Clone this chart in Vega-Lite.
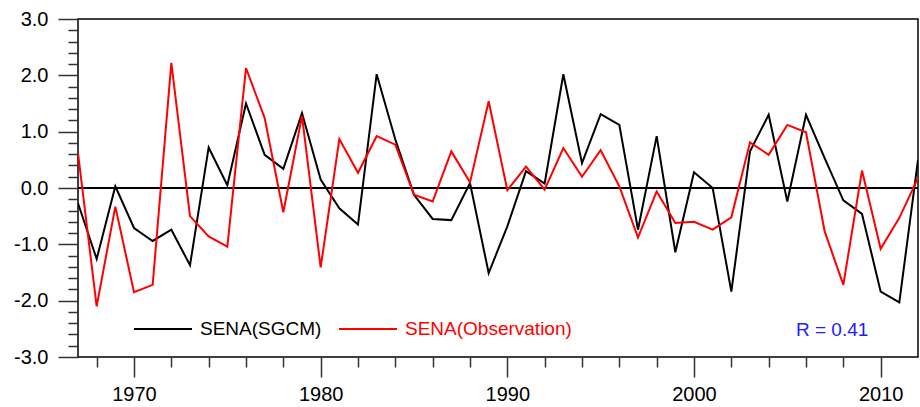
{
  "$schema": "https://vega.github.io/schema/vega-lite/v6.json",
  "autosize": "none",
  "width": 840,
  "height": 338,
  "padding": {"left": 78, "top": 19, "right": 2, "bottom": 50},
  "background": "white",
  "config": {
    "view": {"stroke": "black", "strokeWidth": 1.5},
    "font": "Liberation Sans",
    "axis": {"grid": false, "domain": false, "tickColor": "#333333", "tickWidth": 1.5, "labelFont": "Liberation Sans", "labelFontSize": 20, "labelColor": "black", "title": null}
  },
  "data": {
    "values": [
      {"year": 1967, "SENA(SGCM)": -0.27, "SENA(Observation)": 0.62},
      {"year": 1968, "SENA(SGCM)": -1.26, "SENA(Observation)": -2.10},
      {"year": 1969, "SENA(SGCM)": 0.03, "SENA(Observation)": -0.33},
      {"year": 1970, "SENA(SGCM)": -0.71, "SENA(Observation)": -1.85},
      {"year": 1971, "SENA(SGCM)": -0.94, "SENA(Observation)": -1.72},
      {"year": 1972, "SENA(SGCM)": -0.74, "SENA(Observation)": 2.22},
      {"year": 1973, "SENA(SGCM)": -1.37, "SENA(Observation)": -0.50},
      {"year": 1974, "SENA(SGCM)": 0.72, "SENA(Observation)": -0.86},
      {"year": 1975, "SENA(SGCM)": 0.05, "SENA(Observation)": -1.04},
      {"year": 1976, "SENA(SGCM)": 1.50, "SENA(Observation)": 2.13},
      {"year": 1977, "SENA(SGCM)": 0.59, "SENA(Observation)": 1.24},
      {"year": 1978, "SENA(SGCM)": 0.34, "SENA(Observation)": -0.43},
      {"year": 1979, "SENA(SGCM)": 1.33, "SENA(Observation)": 1.28},
      {"year": 1980, "SENA(SGCM)": 0.15, "SENA(Observation)": -1.41},
      {"year": 1981, "SENA(SGCM)": -0.36, "SENA(Observation)": 0.87},
      {"year": 1982, "SENA(SGCM)": -0.65, "SENA(Observation)": 0.27},
      {"year": 1983, "SENA(SGCM)": 2.02, "SENA(Observation)": 0.92},
      {"year": 1984, "SENA(SGCM)": 0.86, "SENA(Observation)": 0.77},
      {"year": 1985, "SENA(SGCM)": -0.12, "SENA(Observation)": -0.12},
      {"year": 1986, "SENA(SGCM)": -0.55, "SENA(Observation)": -0.24},
      {"year": 1987, "SENA(SGCM)": -0.57, "SENA(Observation)": 0.65},
      {"year": 1988, "SENA(SGCM)": 0.09, "SENA(Observation)": 0.10},
      {"year": 1989, "SENA(SGCM)": -1.51, "SENA(Observation)": 1.54},
      {"year": 1990, "SENA(SGCM)": -0.68, "SENA(Observation)": -0.04},
      {"year": 1991, "SENA(SGCM)": 0.30, "SENA(Observation)": 0.38},
      {"year": 1992, "SENA(SGCM)": 0.08, "SENA(Observation)": -0.03},
      {"year": 1993, "SENA(SGCM)": 2.02, "SENA(Observation)": 0.71},
      {"year": 1994, "SENA(SGCM)": 0.44, "SENA(Observation)": 0.20},
      {"year": 1995, "SENA(SGCM)": 1.31, "SENA(Observation)": 0.67},
      {"year": 1996, "SENA(SGCM)": 1.12, "SENA(Observation)": 0.03},
      {"year": 1997, "SENA(SGCM)": -0.74, "SENA(Observation)": -0.88},
      {"year": 1998, "SENA(SGCM)": 0.92, "SENA(Observation)": -0.06},
      {"year": 1999, "SENA(SGCM)": -1.14, "SENA(Observation)": -0.62},
      {"year": 2000, "SENA(SGCM)": 0.28, "SENA(Observation)": -0.60},
      {"year": 2001, "SENA(SGCM)": 0.00, "SENA(Observation)": -0.74},
      {"year": 2002, "SENA(SGCM)": -1.84, "SENA(Observation)": -0.52},
      {"year": 2003, "SENA(SGCM)": 0.65, "SENA(Observation)": 0.81},
      {"year": 2004, "SENA(SGCM)": 1.30, "SENA(Observation)": 0.59},
      {"year": 2005, "SENA(SGCM)": -0.24, "SENA(Observation)": 1.12},
      {"year": 2006, "SENA(SGCM)": 1.30, "SENA(Observation)": 0.99},
      {"year": 2007, "SENA(SGCM)": 0.53, "SENA(Observation)": -0.77},
      {"year": 2008, "SENA(SGCM)": -0.22, "SENA(Observation)": -1.72},
      {"year": 2009, "SENA(SGCM)": -0.46, "SENA(Observation)": 0.31},
      {"year": 2010, "SENA(SGCM)": -1.84, "SENA(Observation)": -1.08},
      {"year": 2011, "SENA(SGCM)": -2.03, "SENA(Observation)": -0.53},
      {"year": 2012, "SENA(SGCM)": 0.50, "SENA(Observation)": 0.18}
    ]
  },
  "layer": [
    {
      "mark": {"type": "rule", "color": "black", "strokeWidth": 1.5},
      "encoding": {"y": {"datum": 0, "type": "quantitative", "scale": {"domain": [-3, 3], "nice": false}}}
    },
    {
      "transform": [{"fold": ["SENA(SGCM)", "SENA(Observation)"], "as": ["series", "value"]}],
      "mark": {"type": "line", "strokeWidth": 2, "clip": true},
      "encoding": {
        "x": {
          "field": "year", "type": "quantitative",
          "scale": {"domain": [1967, 2012], "nice": false, "zero": false},
          "axis": {
            "values": [1968, 1970, 1972, 1974, 1976, 1978, 1980, 1982, 1984, 1986, 1988, 1990, 1992, 1994, 1996, 1998, 2000, 2002, 2004, 2006, 2008, 2010],
            "tickCount": 200,
            "labelExpr": "datum.value % 10 === 0 ? '' + datum.value : ''",
            "labelOverlap": false, "labelFlush": false,
            "tickSize": {"condition": {"test": "datum.value % 10 === 0", "value": 20}, "value": 10},
            "labelPadding": 7
          }
        },
        "y": {
          "field": "value", "type": "quantitative",
          "scale": {"domain": [-3, 3], "nice": false},
          "axis": {
            "values": [-3, -2.8, -2.6, -2.4, -2.2, -2, -1.8, -1.6, -1.4, -1.2, -1, -0.8, -0.6, -0.4, -0.2, 0, 0.2, 0.4, 0.6, 0.8, 1, 1.2, 1.4, 1.6, 1.8, 2, 2.2, 2.4, 2.6, 2.8, 3],
            "tickCount": 200,
            "labelExpr": "abs(datum.value - round(datum.value)) < 0.000001 ? (datum.value < -0.01 ? '-' : '') + format(abs(datum.value), '.1f') : ''",
            "labelOverlap": false, "labelFlush": false,
            "tickSize": {"condition": {"test": "abs(datum.value - round(datum.value)) < 0.000001", "value": 20}, "value": 10},
            "labelPadding": 10
          }
        },
        "color": {
          "field": "series", "type": "nominal",
          "scale": {"domain": ["SENA(SGCM)", "SENA(Observation)"], "range": ["black", "#ff0000"]},
          "legend": {
            "orient": "none", "direction": "horizontal", "title": null,
            "legendX": 55, "legendY": 280, "padding": 0,
            "symbolType": "stroke", "symbolSize": 3364, "symbolStrokeWidth": 2,
            "labelFont": "Liberation Sans", "labelFontSize": 19, "labelOffset": 7, "columnPadding": 13,
            "labelLimit": 400,
            "encode": {"labels": {"update": {"fill": {"signal": "datum.value === 'SENA(SGCM)' ? 'black' : '#ff0000'"}}}}
          }
        }
      }
    },
    {
      "data": {"values": [{"label": "R = 0.41"}]},
      "mark": {"type": "text", "color": "#2020ff", "font": "Liberation Sans", "fontSize": 19, "align": "center", "baseline": "middle"},
      "encoding": {
        "text": {"field": "label"},
        "x": {"datum": 2007.4, "type": "quantitative"},
        "y": {"datum": -2.52, "type": "quantitative"}
      }
    }
  ]
}
